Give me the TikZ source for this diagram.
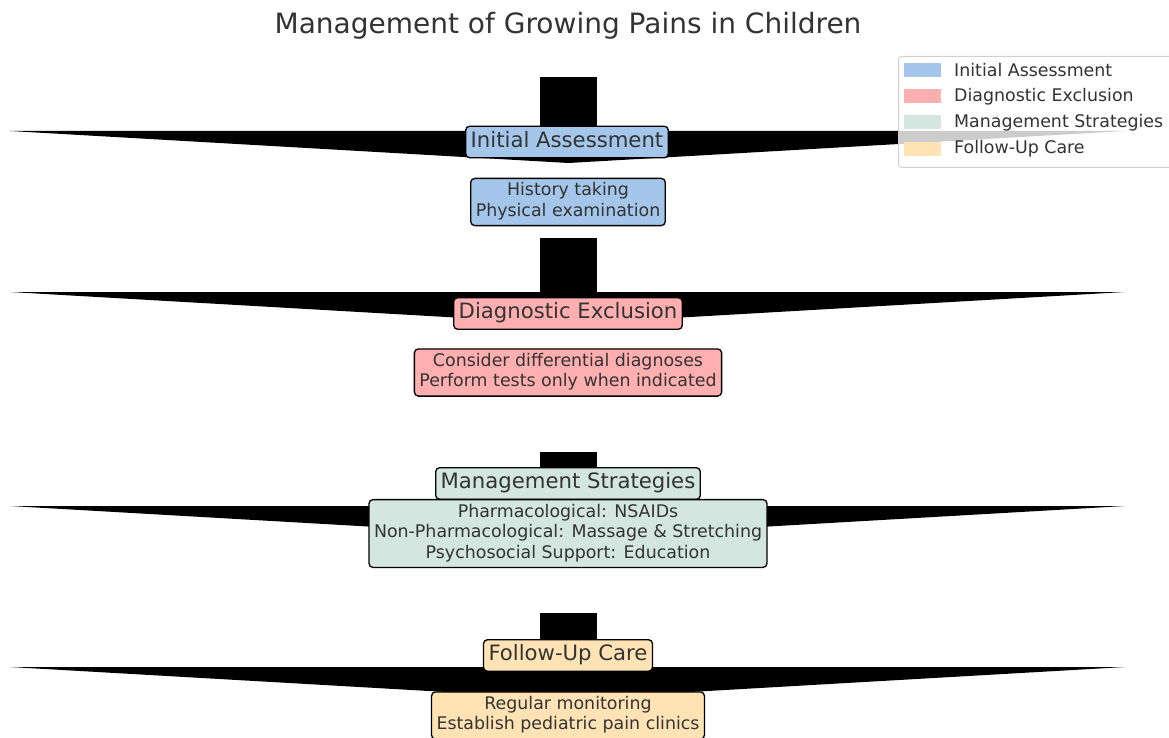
\documentclass[tikz,border=0pt]{standalone}
\usepackage{fontspec}
\setmainfont{DejaVu Sans}
\definecolor{cia}{HTML}{A3C6EA}
\definecolor{cde}{HTML}{FFAFAF}
\definecolor{cms}{HTML}{D3E6DF}
\definecolor{cfu}{HTML}{FFE3B5}
\definecolor{txt}{HTML}{333333}
\definecolor{legframe}{HTML}{D0D0D0}
\begin{document}
\begin{tikzpicture}[x=1pt,y=-1pt,
  stagebox/.style={draw=black, line width=1.3pt, rounded corners=4pt, inner xsep=5pt, inner ysep=3pt, text=txt, align=center},
  headbox/.style={stagebox, font=\fontsize{21.2}{25.6}\selectfont},
  bodybox/.style={stagebox, font=\fontsize{17.4}{20.6}\selectfont},
  legpatch/.style={minimum width=37pt, minimum height=14pt, inner sep=0pt},
  legtext/.style={anchor=west, text=txt, font=\fontsize{17.4}{20.6}\selectfont, inner sep=0pt},
  bigarrow/.style={fill=black}]
\useasboundingbox (0,0) rectangle (1169,738);
\clip (0,0) rectangle (1169,738);

% title
\node[text=txt, font=\fontsize{28}{33}\selectfont, anchor=base, inner sep=0pt] (title) at (568,34) {Management of Growing Pains in Children};

% arrows
\foreach \y in {77,238,452,613} {
  \fill[bigarrow] (540,\y) rectangle (597,\y+54);
  \fill[bigarrow] (10,\y+54) -- (1125,\y+54) -- (568.5,\y+86) -- cycle;
}

% stage 1
\node[headbox, fill=cia] (ia) at (567,142) {\strut Initial Assessment};
\node[bodybox, fill=cia] (iad) at (568,202) {\strut History taking\\\strut Physical examination};
% stage 2
\node[headbox, fill=cde] (de) at (568,313.5) {\strut Diagnostic Exclusion};
\node[bodybox, fill=cde] (ded) at (568,372.5) {\strut Consider differential diagnoses\\\strut Perform tests only when indicated};
% stage 3
\node[headbox, fill=cms] (ms) at (568,483.5) {\strut Management Strategies};
\node[bodybox, fill=cms] (msd) at (568,533.5) {\strut Pharmacological: NSAIDs\\\strut Non-Pharmacological: Massage \& Stretching\\\strut Psychosocial Support: Education};
% stage 4
\node[headbox, fill=cfu] (fu) at (568,655.5) {\strut Follow-Up Care};
\node[bodybox, fill=cfu] (fud) at (568,715.5) {\strut Regular monitoring\\\strut Establish pediatric pain clinics};

% legend
\node[draw=legframe, line width=1pt, fill=white, fill opacity=0.8, rounded corners=3pt, minimum width=285pt, minimum height=111pt, anchor=north west, inner sep=0pt] (legend) at (898,56) {};
\node[legpatch, fill=cia] (l1) at (922.5,70) {};
\node[legtext] (l1t) at (954,70) {Initial Assessment};
\node[legpatch, fill=cde] (l2) at (922.5,96.5) {};
\node[legtext] (l2t) at (954,96.5) {Diagnostic Exclusion};
\node[legpatch, fill=cms] (l3) at (922.5,122.5) {};
\node[legtext] (l3t) at (954,122.5) {Management Strategies};
\node[legpatch, fill=cfu] (l4) at (922.5,149) {};
\node[legtext] (l4t) at (954,149) {Follow-Up Care};
\end{tikzpicture}
\end{document}
